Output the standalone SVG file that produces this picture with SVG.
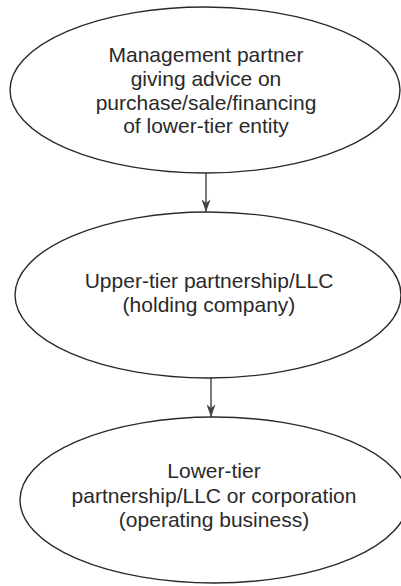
<svg xmlns="http://www.w3.org/2000/svg" width="401" height="586" viewBox="0 0 401 586">
<style>
.node{fill:none;stroke:#2a2a2a;stroke-width:1.4}
.lbl{font-family:"Liberation Sans",Arial,sans-serif;font-size:21px;fill:#2a2a2a;text-anchor:middle}
.edge{stroke:#333;stroke-width:1.3;fill:none}
</style>
<defs>
<marker id="arr" viewBox="0 0 14 10" refX="14" refY="5" markerWidth="14" markerHeight="9" markerUnits="userSpaceOnUse" orient="auto">
<path d="M0,0 L14,5 L0,10 L4,5 Z" fill="#444"/>
</marker>
</defs>
<rect width="401" height="586" fill="#fff"/>
<g id="n1">
<ellipse class="node" cx="205" cy="90" rx="195" ry="83"/>
<text class="lbl" x="206" y="62">Management partner</text>
<text class="lbl" x="206" y="86">giving advice on</text>
<text class="lbl" x="206" y="110">purchase/sale/financing</text>
<text class="lbl" x="206" y="133">of lower-tier entity</text>
</g>
<g id="n2">
<ellipse class="node" cx="208" cy="295" rx="193" ry="83"/>
<text class="lbl" x="209" y="288">Upper-tier partnership/LLC</text>
<text class="lbl" x="209" y="312">(holding company)</text>
</g>
<g id="n3">
<ellipse class="node" cx="214" cy="500" rx="194" ry="83"/>
<text class="lbl" x="214" y="478">Lower-tier</text>
<text class="lbl" x="214" y="503">partnership/LLC or corporation</text>
<text class="lbl" x="214" y="527">(operating business)</text>
</g>
<g id="connectors">
<line class="edge" x1="206" y1="173" x2="206" y2="212" marker-end="url(#arr)"/>
<line class="edge" x1="211" y1="378" x2="211" y2="417" marker-end="url(#arr)"/>
</g>
</svg>
